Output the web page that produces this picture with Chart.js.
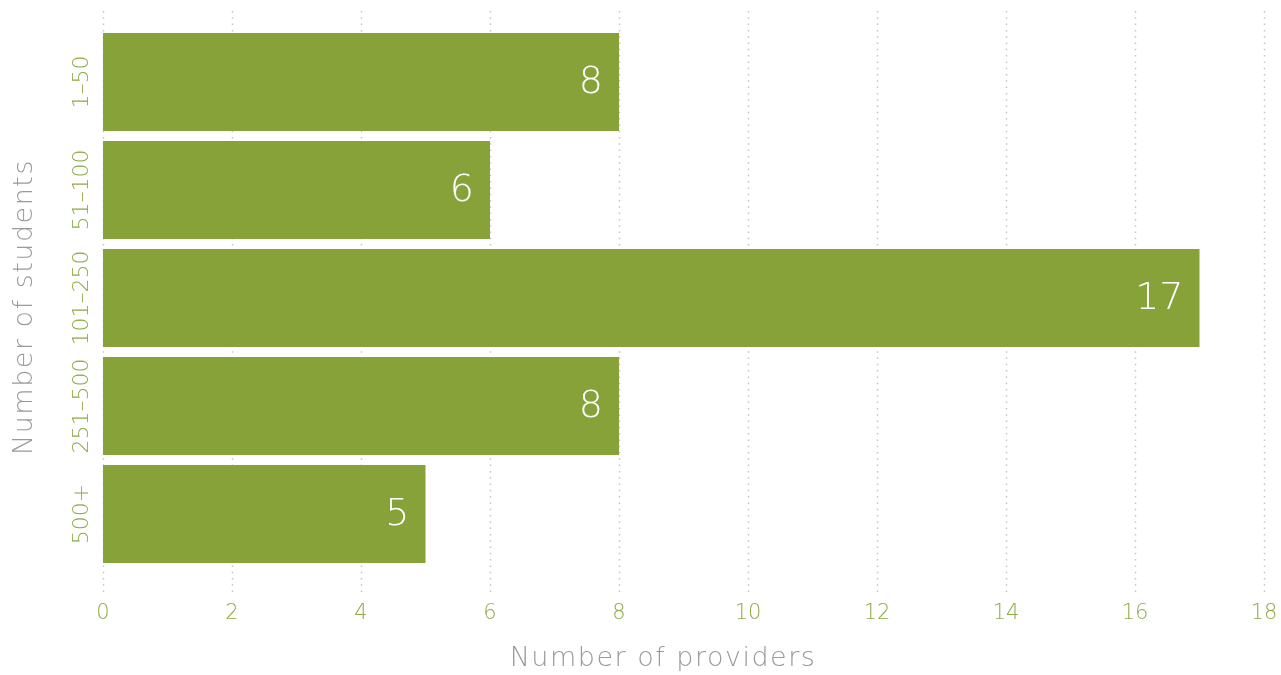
<!DOCTYPE html>
<html>
<head>
<meta charset="utf-8">
<script src="https://cdn.jsdelivr.net/npm/chart.js@4"></script>
<style>
  html, body { margin: 0; padding: 0; background: #ffffff; }
  #wrap { width: 1281px; height: 675px; }
</style>
</head>
<body>
<div id="wrap"><canvas id="myChart" width="1281" height="675"></canvas></div>
<script>
// Chart data
var categories = ["1–50", "51–100", "101–250", "251–500", "500+"];
var providers = [8, 6, 17, 8, 5];
var xTicks = [0, 2, 4, 6, 8, 10, 12, 14, 16, 18];
var xTitle = "Number of providers";
var yTitle = "Number of students";

var green = "#87a239";
var labelGreen = "#8cab45";
var grey = "#9a9a9a";
var fontName = "'DejaVu Sans'";

// dotted grid lines, value labels, rotated category labels and axis titles
var extras = {
  id: "extras",
  beforeDatasetsDraw: function (chart) {
    var ctx = chart.ctx;
    var x = chart.scales.x;
    var area = chart.chartArea;
    ctx.save();
    ctx.strokeStyle = "#c4c4c4";
    ctx.lineWidth = 1.5;
    ctx.setLineDash([1.5, 4.8]);
    xTicks.forEach(function (v) {
      var px = Math.round(x.getPixelForValue(v)) + 0.5;
      ctx.beginPath();
      ctx.moveTo(px, area.top - 17);
      ctx.lineTo(px, area.bottom + 27);
      ctx.stroke();
    });
    ctx.restore();
  },
  afterDatasetsDraw: function (chart) {
    var ctx = chart.ctx;
    var meta = chart.getDatasetMeta(0);
    var y = chart.scales.y;
    var area = chart.chartArea;
    ctx.save();
    // value labels inside bars
    ctx.fillStyle = "#ffffff";
    ctx.font = "200 38px " + fontName;
    ctx.textAlign = "right";
    ctx.textBaseline = "middle";
    meta.data.forEach(function (bar, i) {
      ctx.fillText(String(providers[i]), bar.x - 16, bar.y + 1);
    });
    // rotated category labels
    ctx.fillStyle = labelGreen;
    ctx.font = "200 22px " + fontName;
    ctx.textAlign = "center";
    categories.forEach(function (c, i) {
      ctx.save();
      ctx.translate(82, y.getPixelForValue(i));
      ctx.rotate(-Math.PI / 2);
      ctx.fillText(c, 0, 0);
      ctx.restore();
    });
    // axis titles
    ctx.fillStyle = grey;
    ctx.font = "200 27px " + fontName;
    ctx.letterSpacing = "1.5px";
    ctx.fillText(xTitle, area.left + 560, 659);
    ctx.translate(25, area.top + 279);
    ctx.rotate(-Math.PI / 2);
    ctx.fillText(yTitle, 0, 0);
    ctx.restore();
  }
};

var ctx = document.getElementById("myChart").getContext("2d");
var myChart = new Chart(ctx, {
  type: "bar",
  data: {
    labels: categories,
    datasets: [
      {
        data: providers,
        backgroundColor: green,
        borderWidth: 0,
        barPercentage: 0.907,
        categoryPercentage: 1.0,
      },
    ],
  },
  plugins: [extras],
  options: {
    indexAxis: "y",
    responsive: false,
    animation: false,
    devicePixelRatio: 1,
    layout: {
      padding: { top: 28, right: 17, left: 0, bottom: 0 },
    },
    plugins: {
      legend: { display: false },
      tooltip: { enabled: false },
    },
    scales: {
      x: {
        min: 0,
        max: 18,
        afterBuildTicks: function (scale) {
          scale.ticks = xTicks.map(function (v) { return { value: v }; });
        },
        afterFit: function (scale) {
          scale.height = 107;
          scale.paddingLeft = 0;
          scale.paddingRight = 0;
        },
        grid: { display: false, drawTicks: false },
        border: { display: false },
        ticks: {
          color: labelGreen,
          padding: 33,
          maxRotation: 0,
          font: { family: fontName, size: 21, weight: "200" },
        },
      },
      y: {
        grid: { display: false, drawTicks: false },
        border: { display: false },
        ticks: { display: false },
        afterFit: function (scale) {
          scale.width = 103;
        },
      },
    },
  },
});
</script>
</body>
</html>
